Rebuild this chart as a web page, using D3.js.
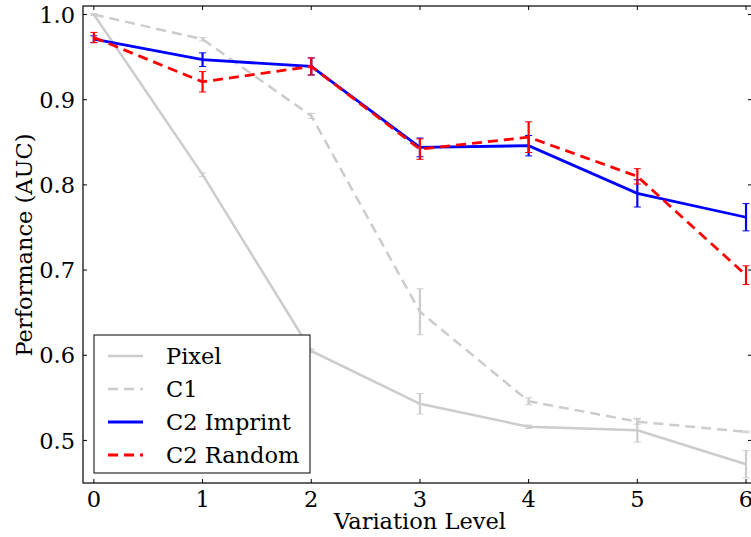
<!DOCTYPE html>
<html>
<head>
<meta charset="utf-8">
<script src="https://cdn.jsdelivr.net/npm/d3@7"></script>
<style>
  html, body { margin: 0; padding: 0; background: #fff; }
  svg { display: block; font-family: "DejaVu Serif", serif; }
</style>
</head>
<body>
<svg id="chart" width="751" height="537"></svg>
<script>
// values
const levels = [0, 1, 2, 3, 4, 5, 6];
const pixel = [1.0, 0.812, 0.605, 0.543, 0.516, 0.512, 0.472];
const pixelErr = [0.001, 0.002, 0.002, 0.012, 0.002, 0.014, 0.016];
const c1 = [1.0, 0.971, 0.881, 0.651, 0.546, 0.522, 0.510];
const c1Err = [0.001, 0.002, 0.003, 0.027, 0.004, 0.003, 0.001];
const imprint = [0.971, 0.947, 0.939, 0.844, 0.846, 0.790, 0.762];
const imprintErr = [0.004, 0.008, 0.010, 0.011, 0.012, 0.016, 0.016];
const random = [0.973, 0.921, 0.939, 0.842, 0.856, 0.810, 0.694];
const randomErr = [0.006, 0.012, 0.010, 0.012, 0.018, 0.009, 0.011];
const yTicks = [0.5, 0.6, 0.7, 0.8, 0.9, 1.0];

const series = [
  { name: 'Pixel', vals: pixel, err: pixelErr, color: '#cccccc', dash: null, w: 2.5 },
  { name: 'C1', vals: c1, err: c1Err, color: '#cccccc', dash: '10,6', w: 2.5 },
  { name: 'C2 Imprint', vals: imprint, err: imprintErr, color: '#0000ff', dash: null, w: 2.8 },
  { name: 'C2 Random', vals: random, err: randomErr, color: '#ff0000', dash: '10,6', w: 2.8 }
];

const L = 83, R = 752, T = 6, B = 483;
const FS = 22.5;
const svg = d3.select('#chart');
const x = d3.scaleLinear().domain([-0.1, 6.055]).range([L, R]);
const y = d3.scaleLinear().domain([0.45, 1.01]).range([B, T]);

svg.append('defs').append('clipPath').attr('id', 'clip')
  .append('rect').attr('x', L).attr('y', T).attr('width', R - L).attr('height', B - T);

const plot = svg.append('g').attr('clip-path', 'url(#clip)');

series.forEach(s => {
  const pts = levels.map((lv, i) => ({ x: lv, y: s.vals[i], e: s.err[i] }));
  const g = plot.append('g');
  g.append('path')
    .datum(pts)
    .attr('fill', 'none')
    .attr('stroke', s.color)
    .attr('stroke-width', s.w)
    .attr('stroke-dasharray', s.dash)
    .attr('d', d3.line().x(d => x(d.x)).y(d => y(d.y)));
  const eb = g.selectAll('g.eb').data(pts).enter().append('g').attr('class', 'eb');
  eb.append('line')
    .attr('x1', d => x(d.x)).attr('x2', d => x(d.x))
    .attr('y1', d => y(d.y - d.e)).attr('y2', d => y(d.y + d.e))
    .attr('stroke', s.color).attr('stroke-width', 2.2);
  [-1, 1].forEach(sg => {
    eb.append('line')
      .attr('x1', d => x(d.x) - 3.5).attr('x2', d => x(d.x) + 3.5)
      .attr('y1', d => y(d.y + sg * d.e)).attr('y2', d => y(d.y + sg * d.e))
      .attr('stroke', s.color).attr('stroke-width', 1);
  });
});

// axes: ticks inward on all four sides
const axG = svg.append('g').attr('stroke', '#000').attr('stroke-width', 1);
levels.forEach(v => {
  axG.append('line').attr('x1', x(v)).attr('x2', x(v)).attr('y1', B).attr('y2', B - 4);
  axG.append('line').attr('x1', x(v)).attr('x2', x(v)).attr('y1', T).attr('y2', T + 4);
});
yTicks.forEach(v => {
  axG.append('line').attr('x1', L).attr('x2', L + 4).attr('y1', y(v)).attr('y2', y(v));
  axG.append('line').attr('x1', R).attr('x2', R - 4).attr('y1', y(v)).attr('y2', y(v));
});
svg.append('rect').attr('x', L).attr('y', T).attr('width', R - L).attr('height', B - T)
  .attr('fill', 'none').attr('stroke', '#000').attr('stroke-width', 1.2);

svg.append('g').selectAll('text').data(levels).enter().append('text')
  .attr('x', d => x(d)).attr('y', 507)
  .attr('text-anchor', 'middle').attr('font-size', FS).attr('fill', '#000')
  .text(d => d);
svg.append('g').selectAll('text').data(yTicks).enter().append('text')
  .attr('x', 75).attr('y', d => y(d)).attr('dy', '0.36em')
  .attr('text-anchor', 'end').attr('font-size', FS).attr('fill', '#000')
  .text(d => d.toFixed(1));

svg.append('text').attr('x', 420).attr('y', 529)
  .attr('text-anchor', 'middle').attr('font-size', FS).text('Variation Level');
svg.append('text').attr('transform', 'translate(32,245) rotate(-90)')
  .attr('text-anchor', 'middle').attr('font-size', FS).text('Performance (AUC)');

// legend
const lg = svg.append('g');
lg.append('rect').attr('x', 94).attr('y', 335).attr('width', 216).attr('height', 138)
  .attr('fill', '#fff').attr('stroke', '#000').attr('stroke-width', 1);
series.forEach((s, i) => {
  const yy = 356 + i * 33;
  lg.append('line').attr('x1', 108).attr('x2', 143).attr('y1', yy).attr('y2', yy)
    .attr('stroke', s.color).attr('stroke-width', s.w).attr('stroke-dasharray', s.dash);
  lg.append('text').attr('x', 166).attr('y', yy).attr('dy', '0.36em')
    .attr('font-size', FS).text(s.name);
});
</script>
</body>
</html>
